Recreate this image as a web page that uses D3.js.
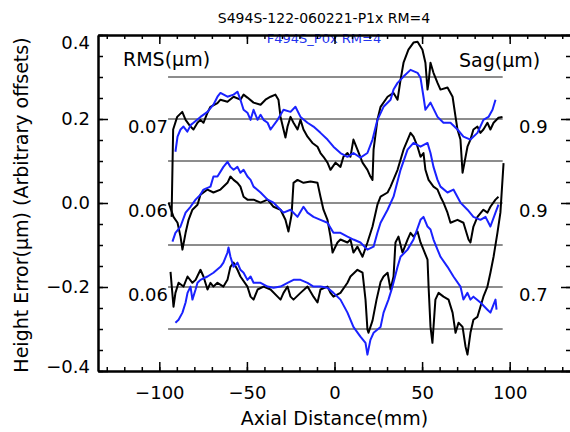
<!DOCTYPE html>
<html lang="en">
<head>
<meta charset="utf-8">
<title>Height error profiles</title>
<script src="https://cdn.jsdelivr.net/npm/d3@7"></script>
<style>
  body { margin: 0; background: #fff; }
  text { font-family: "DejaVu Sans", sans-serif; }
</style>
</head>
<body>
<script>
// ---- data (x in mm, y in um incl. offset) ----
var xMajor = [-100, -50, 0, 50, 100];
var yMajor = [-0.4, -0.2, 0.0, 0.2, 0.4];
var refLevels = [0.3, 0.2, 0.1, 0.0, -0.1, -0.2, -0.3];
var refSpan = [-95, 96];
var rmsLabels = ["0.07", "0.06", "0.06"];
var sagLabels = ["0.9", "0.9", "0.7"];
var labelLevels = [0.2, 0.0, -0.2];

var topBlack = [[-93.0,-0.033],[-92.1,0.175],[-89.8,0.205],[-86.9,0.217],[-85.0,0.198],[-82.2,0.182],[-80.5,0.175],[-78.2,0.191],[-76.5,0.198],[-74.8,0.191],[-72.5,0.215],[-70.8,0.229],[-66.8,0.238],[-65.1,0.246],[-61.1,0.241],[-57.6,0.253],[-53.7,0.246],[-51.9,0.258],[-49.7,0.251],[-46.2,0.239],[-42.2,0.234],[-39.4,0.246],[-36.5,0.253],[-33.7,0.258],[-32.0,0.246],[-30.8,0.205],[-29.1,0.175],[-28.0,0.156],[-26.8,0.182],[-25.1,0.205],[-23.4,0.191],[-21.1,0.175],[-19.4,0.198],[-17.7,0.175],[-15.4,0.158],[-12.6,0.143],[-9.7,0.134],[-8.0,0.119],[-6.3,0.110],[-4.0,0.096],[-2.3,0.079],[0.6,0.096],[3.4,0.086],[5.1,0.110],[7.4,0.119],[9.1,0.110],[10.8,0.151],[13.1,0.127],[16.0,0.096],[18.8,0.079],[20.5,0.063],[21.7,0.055],[22.3,0.127],[24.5,0.198],[26.3,0.229],[30.3,0.253],[33.7,0.262],[36.0,0.246],[37.7,0.293],[39.4,0.334],[42.2,0.365],[45.1,0.382],[47.4,0.384],[50.2,0.365],[51.9,0.334],[53.1,0.270],[53.7,0.286],[54.8,0.334],[56.5,0.310],[58.8,0.286],[60.5,0.270],[64.5,0.275],[67.4,0.253],[69.1,0.205],[70.2,0.175],[71.9,0.151],[73.1,0.072],[74.2,0.096],[75.9,0.134],[77.6,0.151],[79.3,0.175],[81.6,0.182],[83.3,0.167],[85.0,0.175],[87.3,0.191],[89.0,0.175],[90.8,0.191],[93.6,0.203],[95.9,0.205]];

var topBlue = [[-90.8,0.122],[-89.6,0.158],[-87.9,0.175],[-86.2,0.182],[-84.0,0.170],[-82.0,0.186],[-80.5,0.191],[-76.5,0.205],[-72.5,0.217],[-69.1,0.234],[-66.8,0.253],[-65.1,0.262],[-61.1,0.253],[-57.6,0.258],[-55.4,0.265],[-53.7,0.246],[-51.9,0.222],[-49.7,0.215],[-47.9,0.198],[-46.2,0.222],[-43.9,0.198],[-42.2,0.210],[-40.5,0.198],[-38.2,0.191],[-36.5,0.175],[-32.5,0.198],[-29.1,0.222],[-25.1,0.217],[-22.3,0.229],[-19.4,0.205],[-15.4,0.191],[-12.0,0.182],[-8.0,0.167],[-4.0,0.151],[-0.6,0.134],[3.4,0.119],[7.4,0.110],[10.8,0.119],[14.8,0.108],[18.8,0.119],[21.7,0.151],[24.5,0.198],[28.0,0.229],[32.0,0.246],[33.7,0.270],[36.0,0.286],[39.4,0.301],[43.4,0.317],[47.4,0.310],[49.1,0.298],[50.8,0.253],[51.9,0.222],[54.8,0.239],[58.8,0.205],[62.2,0.191],[66.2,0.191],[70.2,0.175],[73.6,0.158],[77.6,0.151],[81.6,0.167],[85.0,0.198],[87.9,0.205],[90.2,0.222],[91.9,0.246]];

var midBlack = [[-94.7,0.001],[-91.9,-0.033],[-89.6,-0.047],[-87.9,-0.080],[-86.8,-0.111],[-85.0,-0.071],[-83.3,-0.040],[-81.1,-0.016],[-78.2,-0.004],[-76.5,0.020],[-72.5,0.032],[-69.1,0.025],[-65.1,0.032],[-61.1,0.048],[-59.4,0.063],[-57.6,0.055],[-55.4,0.048],[-53.7,0.039],[-51.9,0.015],[-49.7,0.008],[-46.2,0.008],[-42.2,0.001],[-38.2,0.008],[-34.8,-0.009],[-30.8,-0.016],[-28.0,-0.040],[-26.3,-0.068],[-24.5,-0.028],[-23.4,0.048],[-21.1,0.055],[-17.7,0.048],[-13.7,0.051],[-9.7,0.048],[-8.0,0.015],[-6.3,-0.016],[-4.0,-0.040],[-2.3,-0.080],[-1.1,-0.118],[1.7,-0.094],[3.4,-0.087],[7.4,-0.094],[9.1,-0.087],[10.8,-0.118],[13.1,-0.104],[16.0,-0.128],[18.8,-0.094],[21.7,-0.056],[24.5,-0.004],[26.3,0.015],[30.3,0.025],[32.0,0.039],[36.0,0.079],[39.4,0.127],[43.4,0.167],[45.1,0.158],[47.4,0.134],[49.1,0.110],[50.8,0.119],[51.9,0.079],[53.7,0.055],[56.5,0.039],[58.8,0.032],[60.5,0.015],[62.2,0.001],[64.5,-0.023],[66.2,-0.047],[70.2,-0.040],[73.6,-0.047],[76.5,-0.087],[77.6,-0.094],[79.3,-0.056],[81.6,-0.033],[85.0,-0.016],[87.3,-0.023],[89.0,-0.009],[91.9,0.008],[93.6,0.015]];

var midBlue = [[-92.5,-0.092],[-90.8,-0.071],[-87.9,-0.056],[-85.0,-0.023],[-82.2,-0.009],[-79.3,0.008],[-76.5,0.020],[-74.8,0.032],[-70.8,0.039],[-69.1,0.063],[-66.8,0.063],[-63.4,0.086],[-61.1,0.098],[-59.4,0.086],[-57.6,0.079],[-55.4,0.086],[-53.7,0.072],[-51.9,0.079],[-49.7,0.063],[-47.9,0.055],[-46.2,0.039],[-42.2,0.025],[-38.2,0.008],[-34.8,0.001],[-32.5,-0.009],[-29.1,-0.023],[-25.1,-0.016],[-21.1,-0.033],[-17.7,-0.009],[-15.4,-0.023],[-12.0,-0.033],[-8.0,-0.040],[-4.0,-0.047],[-0.6,-0.071],[3.4,-0.071],[7.4,-0.080],[10.8,-0.087],[14.8,-0.094],[18.8,-0.111],[22.3,-0.104],[24.5,-0.071],[26.3,-0.047],[30.3,-0.016],[33.7,0.015],[37.7,0.079],[41.7,0.127],[45.1,0.143],[49.1,0.134],[53.1,0.143],[54.8,0.119],[56.5,0.086],[58.8,0.055],[60.5,0.039],[64.5,0.025],[67.9,0.032],[71.9,0.001],[75.9,-0.016],[79.3,-0.033],[83.3,-0.040],[86.2,-0.033],[89.0,-0.056],[91.9,-0.023],[93.6,-0.004]];

var botBlack = [[-93.6,-0.164],[-91.9,-0.247],[-90.8,-0.214],[-89.0,-0.190],[-86.2,-0.199],[-83.9,-0.175],[-81.1,-0.190],[-79.3,-0.183],[-76.5,-0.159],[-74.8,-0.175],[-72.5,-0.206],[-70.8,-0.190],[-69.1,-0.199],[-66.8,-0.190],[-63.4,-0.199],[-61.1,-0.183],[-59.4,-0.152],[-57.6,-0.142],[-55.4,-0.159],[-53.7,-0.175],[-49.7,-0.199],[-47.9,-0.223],[-46.2,-0.230],[-43.9,-0.206],[-40.5,-0.199],[-36.5,-0.206],[-32.5,-0.223],[-30.8,-0.230],[-29.1,-0.214],[-26.8,-0.199],[-25.1,-0.223],[-23.4,-0.230],[-19.4,-0.214],[-15.4,-0.199],[-12.0,-0.223],[-9.7,-0.237],[-8.0,-0.206],[-4.0,-0.199],[-2.3,-0.214],[-0.6,-0.223],[3.4,-0.214],[7.4,-0.190],[9.1,-0.175],[13.1,-0.159],[16.0,-0.166],[17.7,-0.230],[18.8,-0.301],[19.4,-0.309],[21.7,-0.280],[24.0,-0.230],[26.3,-0.188],[28.0,-0.175],[30.3,-0.166],[32.0,-0.206],[33.7,-0.175],[34.8,-0.094],[36.5,-0.080],[38.8,-0.118],[41.7,-0.087],[43.4,-0.071],[45.1,-0.080],[47.4,-0.068],[49.1,-0.094],[50.8,-0.111],[53.1,-0.135],[53.7,-0.199],[54.8,-0.295],[55.9,-0.333],[57.6,-0.230],[59.4,-0.214],[62.2,-0.223],[65.1,-0.230],[67.4,-0.261],[69.1,-0.309],[70.8,-0.285],[73.1,-0.295],[74.8,-0.342],[75.9,-0.361],[77.6,-0.309],[79.3,-0.278],[81.6,-0.271],[83.3,-0.247],[85.0,-0.223],[87.3,-0.199],[89.0,-0.166],[90.8,-0.128],[93.0,-0.071],[94.7,-0.023],[96.5,0.095]];

var botBlue = [[-90.8,-0.285],[-89.0,-0.278],[-86.8,-0.261],[-85.0,-0.237],[-83.9,-0.214],[-82.2,-0.199],[-81.1,-0.230],[-79.3,-0.206],[-78.2,-0.190],[-76.5,-0.183],[-72.5,-0.175],[-69.1,-0.166],[-65.1,-0.152],[-63.4,-0.142],[-61.1,-0.118],[-60.5,-0.106],[-59.4,-0.128],[-57.6,-0.152],[-55.4,-0.142],[-53.7,-0.159],[-51.9,-0.166],[-49.7,-0.183],[-47.9,-0.175],[-46.2,-0.190],[-42.2,-0.190],[-38.2,-0.199],[-34.8,-0.202],[-30.8,-0.199],[-26.8,-0.190],[-23.4,-0.183],[-19.4,-0.183],[-15.4,-0.190],[-12.0,-0.199],[-8.0,-0.199],[-4.0,-0.202],[-0.6,-0.214],[3.4,-0.230],[7.4,-0.261],[10.8,-0.295],[14.8,-0.318],[17.7,-0.333],[18.8,-0.361],[20.5,-0.326],[22.3,-0.309],[26.3,-0.295],[28.0,-0.261],[30.8,-0.230],[33.1,-0.199],[36.0,-0.152],[37.7,-0.128],[41.7,-0.111],[45.1,-0.087],[49.1,-0.040],[50.8,-0.033],[53.1,-0.056],[54.8,-0.063],[56.5,-0.087],[58.8,-0.111],[60.5,-0.128],[64.5,-0.152],[67.9,-0.175],[71.9,-0.199],[73.6,-0.230],[75.9,-0.214],[77.6,-0.230],[79.3,-0.223],[83.3,-0.237],[87.3,-0.254],[89.0,-0.261],[91.9,-0.230],[92.5,-0.254]];

var blackSeries = [topBlack, midBlack, botBlack];
var blueSeries = [topBlue, midBlue, botBlue];

// ---- layout ----
var width = 570, height = 432;
var x = d3.scaleLinear().domain([-135, 135]).range([98, 571]);
var y = d3.scaleLinear().domain([-0.4, 0.4]).range([371, 35]);

var svg = d3.select("body").append("svg")
    .attr("width", width)
    .attr("height", height);

svg.append("rect").attr("width", width).attr("height", height).attr("fill", "#fff");

// titles
svg.append("text")
    .attr("x", 324).attr("y", 23)
    .attr("text-anchor", "middle")
    .style("font-size", "14px")
    .text("S494S-122-060221-P1x RM=4");

svg.append("text")
    .attr("x", 324).attr("y", 43)
    .attr("text-anchor", "middle")
    .attr("fill", "#2233ee")
    .style("font-size", "13px")
    .text("F494S_P0x RM=4");

// reference lines
svg.selectAll(".ref")
    .data(refLevels)
    .enter().append("line")
    .attr("x1", x(refSpan[0])).attr("x2", x(refSpan[1]))
    .attr("y1", function(d) { return y(d); })
    .attr("y2", function(d) { return y(d); })
    .attr("stroke", "#1a1a1a")
    .attr("stroke-width", 1);

// inner labels
svg.append("text").attr("x", 123).attr("y", 66).style("font-size", "19px").text("RMS(μm)");
svg.append("text").attr("x", 459).attr("y", 67).style("font-size", "19px").text("Sag(μm)");

svg.selectAll(".rms")
    .data(rmsLabels)
    .enter().append("text")
    .attr("x", 168)
    .attr("y", function(d, i) { return y(labelLevels[i]) + 14; })
    .attr("text-anchor", "end")
    .style("font-size", "18px")
    .text(function(d) { return d; });

svg.selectAll(".sag")
    .data(sagLabels)
    .enter().append("text")
    .attr("x", 519)
    .attr("y", function(d, i) { return y(labelLevels[i]) + 14; })
    .style("font-size", "18px")
    .text(function(d) { return d; });

// curves
var line = d3.line()
    .x(function(d) { return x(d[0]); })
    .y(function(d) { return y(d[1]); });

blackSeries.forEach(function(s) {
    svg.append("path").datum(s)
        .attr("d", line)
        .attr("fill", "none")
        .attr("stroke", "#000")
        .attr("stroke-width", 2)
        .attr("stroke-linejoin", "round");
});

blueSeries.forEach(function(s) {
    svg.append("path").datum(s)
        .attr("d", line)
        .attr("fill", "none")
        .attr("stroke", "#1a22ff")
        .attr("stroke-width", 2)
        .attr("stroke-linejoin", "round");
});

// axes
var xMinor = d3.range(-130, 131, 10);
var yMinor = d3.range(-0.4, 0.401, 0.05);

function styleAxis(g) {
    g.selectAll("path").attr("stroke", "#000").attr("stroke-width", 2);
    g.selectAll("line").attr("stroke", "#000").attr("stroke-width", 1.5);
    g.selectAll("text").attr("fill", "#000").style("font-size", "18px")
        .style("font-family", "DejaVu Sans, sans-serif");
}

// bottom
svg.append("g").attr("transform", "translate(0," + y(-0.4) + ")")
    .call(d3.axisBottom(x).tickValues(xMinor).tickSize(-4).tickSizeOuter(0).tickFormat(""))
    .call(styleAxis);
svg.append("g").attr("transform", "translate(0," + y(-0.4) + ")")
    .call(d3.axisBottom(x).tickValues(xMajor).tickSize(-9).tickSizeOuter(0).tickPadding(15)
        .tickFormat(function(d) { return d3.format("d")(d).replace("-", "\u2212"); }))
    .call(styleAxis);

// top
svg.append("g").attr("transform", "translate(0," + y(0.4) + ")")
    .call(d3.axisTop(x).tickValues(xMinor).tickSize(-4).tickSizeOuter(0).tickFormat(""))
    .call(styleAxis);
svg.append("g").attr("transform", "translate(0," + y(0.4) + ")")
    .call(d3.axisTop(x).tickValues(xMajor).tickSize(-9).tickSizeOuter(0).tickFormat(""))
    .call(styleAxis);

// left
svg.append("g").attr("transform", "translate(" + x(-135) + ",0)")
    .call(d3.axisLeft(y).tickValues(yMinor).tickSize(-5).tickSizeOuter(0).tickFormat(""))
    .call(styleAxis);
var yl = svg.append("g").attr("transform", "translate(" + x(-135) + ",0)")
    .call(d3.axisLeft(y).tickValues(yMajor).tickSize(-10).tickSizeOuter(0).tickPadding(8)
        .tickFormat(function(d) { return d3.format(".1f")(d).replace("-", "\u2212"); }))
    .call(styleAxis);
yl.selectAll("text").attr("y", function(d) {
    if (d > 0.39) return 8;
    if (d < -0.39) return -4;
    return 0;
});

// right
svg.append("g").attr("transform", "translate(" + x(135) + ",0)")
    .call(d3.axisRight(y).tickValues(yMinor).tickSize(-5).tickSizeOuter(0).tickFormat(""))
    .call(styleAxis);
svg.append("g").attr("transform", "translate(" + x(135) + ",0)")
    .call(d3.axisRight(y).tickValues(yMajor).tickSize(-10).tickSizeOuter(0).tickFormat(""))
    .call(styleAxis);

// axis titles
svg.append("text")
    .attr("x", x(0)).attr("y", 425)
    .attr("text-anchor", "middle")
    .style("font-size", "19px")
    .text("Axial Distance(mm)");

svg.append("text")
    .attr("transform", "translate(28," + 205 + ") rotate(-90)")
    .attr("text-anchor", "middle")
    .style("font-size", "19px")
    .text("Height Error(μm) (Arbitrary offsets)");
</script>
</body>
</html>
